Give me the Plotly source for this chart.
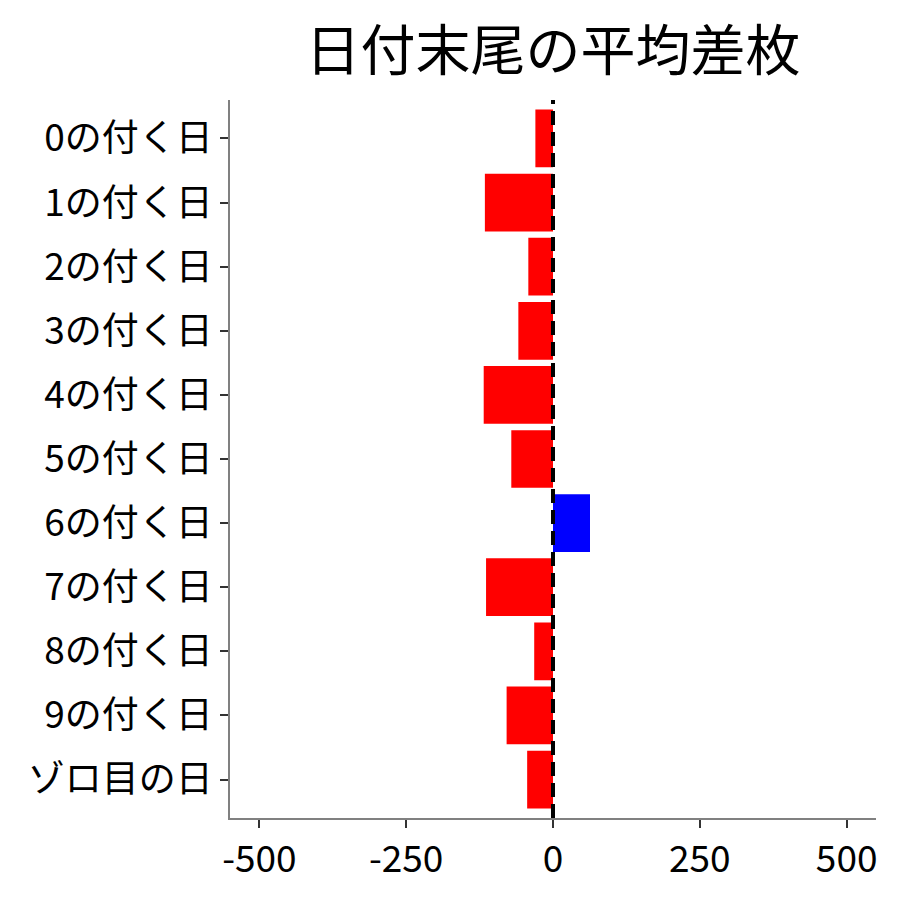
import plotly.graph_objects as go

categories = ["0の付く日", "1の付く日", "2の付く日", "3の付く日", "4の付く日",
              "5の付く日", "6の付く日", "7の付く日", "8の付く日", "9の付く日", "ゾロ目の日"]
values = [-30, -116, -42, -59, -118, -71, 63, -114, -32, -79, -44]
tick_vals = [-500, -250, 0, 250, 500]
title_text = "日付末尾の平均差枚"

colors = ["#FF0000" if v < 0 else "#0000FF" for v in values]
font = "Noto Sans CJK JP"

fig = go.Figure(go.Bar(
    x=values, y=categories, orientation="h",
    marker=dict(color=colors, line=dict(width=0)),
    width=0.9,
))

fig.add_shape(type="line", xref="x", yref="paper", x0=0, x1=0, y0=0, y1=1,
              line=dict(color="black", width=4, dash="14px,7px"), layer="above")

fig.update_layout(
    width=900, height=900,
    paper_bgcolor="white", plot_bgcolor="white",
    margin=dict(l=222, r=32, t=92, b=90),
    showlegend=False,
    title=dict(text=title_text, x=545/900, xanchor="center", y=0.953, yanchor="middle",
               font=dict(family=font, size=55, color="black")),
    font=dict(family=font, color="black"),
    bargap=0.1,
)
fig.update_xaxes(range=[-550, 550], tickvals=tick_vals, ticktext=[str(v) for v in tick_vals],
                 showgrid=False, zeroline=False, showline=True, linecolor="#808080", linewidth=1.5,
                 ticks="outside", ticklen=8, tickwidth=2, tickcolor="#333333",
                 tickfont=dict(family=font, size=37, color="black"))
fig.update_yaxes(categoryorder="array", categoryarray=categories, range=[10.6, -0.6],
                 showgrid=False, zeroline=False, showline=True, linecolor="#808080", linewidth=1.5,
                 ticks="outside", ticklen=8, tickwidth=2, tickcolor="#333333",
                 tickfont=dict(family=font, size=37, color="black"))

fig.write_html("out.html")
